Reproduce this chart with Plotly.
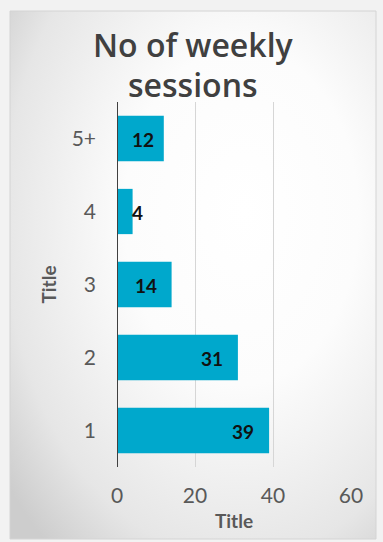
import base64
import plotly.graph_objects as go

# Weekly session counts
categories = ["1", "2", "3", "4", "5+"]
counts = [39, 31, 14, 4, 12]
x_ticks = [0, 20, 40, 60]

W, H = 383, 542
PLOT_L, PLOT_R = 117, 351      # plot area, pixels
PLOT_T, PLOT_B = 102, 467
X_MAX = 60
BAR_COLOR = "#00a8cc"
TICK_FONT = dict(family="Lato", size=21, color="#595959")

# Card background with a soft radial gradient
svg = (
    '<svg xmlns="http://www.w3.org/2000/svg" width="366" height="528" '
    'viewBox="0 0 366 528" preserveAspectRatio="none">'
    '<defs><radialGradient id="g" cx="0.62" cy="0.40" r="0.80" fx="0.64" fy="0.38">'
    '<stop offset="0" stop-color="#ffffff"/>'
    '<stop offset="0.40" stop-color="#fcfcfc"/>'
    '<stop offset="0.80" stop-color="#e6e6e6"/>'
    '<stop offset="1" stop-color="#cdcdcd"/>'
    '</radialGradient></defs>'
    '<rect x="0" y="0" width="366" height="528" fill="url(#g)"/>'
    '</svg>'
)
svg_uri = "data:image/svg+xml;base64," + base64.b64encode(svg.encode()).decode()

CARD_L, CARD_R, CARD_T, CARD_B = 10, 376, 11, 539

fig = go.Figure(
    go.Bar(
        x=counts,
        y=categories,
        orientation="h",
        width=0.62,
        marker=dict(color=BAR_COLOR, line=dict(width=0)),
        hoverinfo="x+y",
    )
)

# Value labels: inside the end of the bar, or at the base when too short.
# Category positions are given by index, since the labels look numeric.
px_per_unit = (PLOT_R - PLOT_L) / X_MAX
pad = 13
annotations = []
for i, v in enumerate(counts):
    text_w = 11 * len(str(v))
    fits = v * px_per_unit >= text_w + 2 * pad
    annotations.append(
        dict(
            x=v if fits else 0,
            y=i,
            xref="x",
            yref="y",
            text=f"<b>{v}</b>",
            showarrow=False,
            xanchor="right" if fits else "left",
            xshift=-pad if fits else pad,
            yshift=-1,
            font=dict(family="Lato", size=19, color="#111111"),
        )
    )

# Two-line chart title
for line, ypix in (("No of weekly", 45), ("sessions", 85)):
    annotations.append(
        dict(
            x=193 / W,
            y=1 - ypix / H,
            xref="paper",
            yref="paper",
            text=line,
            showarrow=False,
            xanchor="center",
            yanchor="middle",
            font=dict(family="Open Sans", size=32, color="#404040", weight=600),
        )
    )

fig.update_layout(
    width=W,
    height=H,
    margin=dict(l=0, r=0, t=0, b=0, autoexpand=False),
    paper_bgcolor="#f2f2f2",
    plot_bgcolor="rgba(0,0,0,0)",
    showlegend=False,
    bargap=0.38,
    annotations=annotations,
    images=[
        dict(
            source=svg_uri,
            xref="paper",
            yref="paper",
            x=CARD_L / W,
            y=1 - CARD_T / H,
            sizex=(CARD_R - CARD_L) / W,
            sizey=(CARD_B - CARD_T) / H,
            xanchor="left",
            yanchor="top",
            sizing="stretch",
            layer="below",
        )
    ],
    xaxis=dict(
        domain=[PLOT_L / W, PLOT_R / W],
        range=[0, X_MAX],
        tickvals=x_ticks,
        ticktext=[str(t) for t in x_ticks],
        showgrid=True,
        gridcolor="#d6d6d6",
        gridwidth=1,
        zeroline=False,
        showline=False,
        ticks="",
        ticklabelstandoff=14,
        tickfont=TICK_FONT,
        automargin=False,
        title=dict(
            text="<b>Title</b>",
            font=dict(family="Lato", size=19, color="#595959"),
            standoff=8,
        ),
        fixedrange=True,
    ),
    yaxis=dict(
        domain=[1 - PLOT_B / H, 1 - PLOT_T / H],
        categoryorder="array",
        categoryarray=categories,
        showgrid=False,
        zeroline=False,
        showline=False,
        ticks="",
        ticklabelstandoff=20,
        tickfont=TICK_FONT,
        automargin=False,
        title=dict(
            text="<b>Title</b>",
            font=dict(family="Lato", size=19, color="#595959"),
            standoff=9,
        ),
        fixedrange=True,
    ),
    shapes=[
        # vertical category axis line at x = 0
        dict(
            type="line",
            xref="x",
            yref="paper",
            x0=0,
            x1=0,
            y0=1 - PLOT_B / H,
            y1=1 - PLOT_T / H,
            line=dict(color="#404040", width=2),
            layer="above",
        ),
        # thin card border
        dict(
            type="rect",
            xref="paper",
            yref="paper",
            x0=CARD_L / W,
            x1=CARD_R / W,
            y0=1 - CARD_B / H,
            y1=1 - CARD_T / H,
            line=dict(color="#d4d4d4", width=1),
            layer="below",
        ),
    ],
)

fig.write_html("out.html")
